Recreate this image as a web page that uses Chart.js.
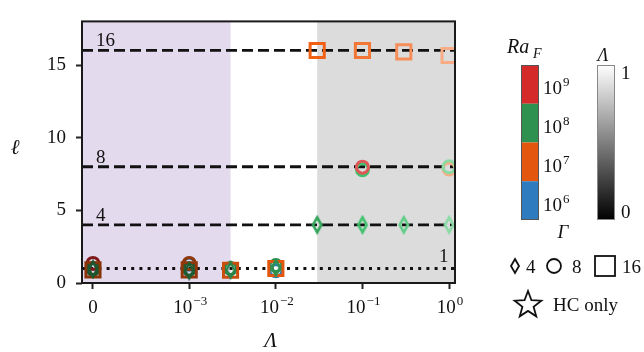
<!DOCTYPE html>
<html>
<head>
<meta charset="utf-8">
<script src="https://cdn.jsdelivr.net/npm/chart.js@4/dist/chart.umd.min.js"></script>
<style>
  html, body { margin: 0; padding: 0; background: #ffffff; }
  #plot { display: block; }
</style>
</head>
<body>
<canvas id="plot" width="644" height="352"></canvas>
<script>
// ---------- data ----------
const lambdaTicks = [0, 1e-3, 1e-2, 1e-1, 1];
const lambdaTickExponents = [null, -3, -2, -1, 0];
const ellTicks = [0, 5, 10, 15];
const lambdaRange = [-1.14e-4, 1.17];
const ellRange = [0, 18];
const regimeEdges = [3e-3, 3e-2];      // mixed regime below the first, grey regime above the second
const guideLevels = [16, 8, 4];        // dashed reference wavenumbers
const baseLevel = 1;                   // dotted reference wavenumber

// Γ = 4 runs
const g4Lambda = [0, 1e-3, 3e-3, 1e-2, 3e-2, 1e-1, 0.3, 1];
const g4Ell    = [0.95, 0.85, 0.9, 1.05, 4, 4, 4, 4];
const g4RaExp  = [8, 8, 8, 8, 8, 8, 8, 8];

// Γ = 8 runs
const g8Lambda = [0, 0, 0, 1e-3, 1e-3, 1e-3, 3e-3, 1e-2, 1e-2, 1e-1, 1e-1, 1, 1];
const g8Ell    = [1.35, 1.0, 0.95, 1.3, 1.35, 0.95, 1.0, 0.85, 1.2, 7.8, 7.97, 7.85, 8.0];
const g8RaExp  = [9, 7, 8, 6, 7, 8, 8, 6, 8, 8, 9, 7, 8];

// Γ = 16 runs
const g16Lambda = [0, 1e-3, 3e-3, 1e-2, 3e-2, 1e-1, 0.3, 1];
const g16Ell    = [0.9, 0.9, 0.88, 1.0, 16, 16, 15.9, 15.65];
const g16RaExp  = [7, 7, 7, 7, 7, 7, 7, 7];

// colour bar ticks
const raBarExponents = [9, 8, 7, 6];
const lambdaBarTicks = [1, 0];

// ---------- colours ----------
const RA_COLORS = { 6: '#2e7cbf', 7: '#e2560e', 8: '#2e9150', 9: '#d42a2a' };
const PURPLE_BAND = '#e4daee';
const GREY_BAND = '#dcdcdc';
const INK = '#111111';
const SERIF = '"Liberation Serif", "Times New Roman", serif';

// ---------- symmetric log transform (linthresh 1e-3, linscale 1) ----------
const LINTHRESH = 1e-3;
const LINSCALE_ADJ = 1 / (1 - 1 / 10);
function symlog(v) {
  const a = Math.abs(v);
  if (a <= LINTHRESH) return v * LINSCALE_ADJ / LINTHRESH;
  return Math.sign(v) * (LINSCALE_ADJ + Math.log10(a / LINTHRESH));
}
function symexp(t) {
  const a = Math.abs(t);
  if (a <= LINSCALE_ADJ) return t * LINTHRESH / LINSCALE_ADJ;
  return Math.sign(t) * LINTHRESH * Math.pow(10, a - LINSCALE_ADJ);
}

class SymlogScale extends Chart.LinearScale {
  determineDataLimits() {
    this.min = this.options.min;
    this.max = this.options.max;
  }
  buildTicks() {
    return lambdaTicks.map(v => ({ value: v }));
  }
  getPixelForValue(v) {
    const a = symlog(this.min), b = symlog(this.max);
    return this.getPixelForDecimal((symlog(v) - a) / (b - a));
  }
  getValueForPixel(p) {
    const a = symlog(this.min), b = symlog(this.max);
    return symexp(a + this.getDecimalForPixel(p) * (b - a));
  }
}
SymlogScale.id = 'symlog';
SymlogScale.defaults = Chart.LinearScale.defaults;
Chart.register(SymlogScale);

// ---------- colour shading by Λ ----------
function hexToHsl(hex) {
  const n = parseInt(hex.slice(1), 16);
  const r = ((n >> 16) & 255) / 255, g = ((n >> 8) & 255) / 255, b = (n & 255) / 255;
  const mx = Math.max(r, g, b), mn = Math.min(r, g, b);
  let h = 0, s = 0;
  const l = (mx + mn) / 2;
  if (mx !== mn) {
    const d = mx - mn;
    s = l > 0.5 ? d / (2 - mx - mn) : d / (mx + mn);
    if (mx === r) h = (g - b) / d + (g < b ? 6 : 0);
    else if (mx === g) h = (b - r) / d + 2;
    else h = (r - g) / d + 4;
    h /= 6;
  }
  return [h, s, l];
}
function tone(raExp, lam) {
  let [h, s, l] = hexToHsl(RA_COLORS[raExp]);
  const t = symlog(lam), ref = symlog(1e-2);
  if (t >= ref) {
    const f = 0.52 * Math.pow(Math.min(1, (t - ref) / 2), 1.3);
    l = l + f * (1 - l);
  } else {
    const k = (ref - t) / ref;
    const f = 0.4 * Math.pow(Math.min(1, 2 * k), 2);
    l = l * (1 - f);
  }
  return `hsl(${(h * 360).toFixed(1)}, ${(s * 100).toFixed(1)}%, ${(l * 100).toFixed(1)}%)`;
}

// thin diamond marker sprite (Γ = 4)
const spriteCache = {};
function diamondSprite(color) {
  if (spriteCache[color]) return spriteCache[color];
  const c = document.createElement('canvas');
  c.width = 14; c.height = 20;
  const g = c.getContext('2d');
  g.strokeStyle = color;
  g.lineWidth = 2.6;
  g.lineJoin = 'miter';
  g.beginPath();
  g.moveTo(7, 2.5); g.lineTo(11.2, 10); g.lineTo(7, 17.5); g.lineTo(2.8, 10); g.closePath();
  g.stroke();
  spriteCache[color] = c;
  return c;
}

function points(lams, ells) {
  return lams.map((x, i) => ({ x: x, y: ells[i] }));
}
function guide(level) {
  return [{ x: lambdaRange[0], y: level }, { x: lambdaRange[1], y: level }];
}

const datasets = [];
guideLevels.forEach(level => datasets.push({
  data: guide(level), showLine: true, pointRadius: 0, borderColor: INK,
  borderWidth: 2.8, borderDash: [11, 5], borderCapStyle: 'butt', order: 10, clip: 0
}));
datasets.push({
  data: guide(baseLevel), showLine: true, pointRadius: 0, borderColor: INK,
  borderWidth: 3, borderDash: [3, 5.2], borderCapStyle: 'butt', order: 10, clip: 0
});
datasets.push({
  data: points(g8Lambda, g8Ell), pointStyle: 'circle', pointRadius: 6, pointBorderWidth: 3,
  pointBackgroundColor: 'rgba(0,0,0,0)',
  pointBorderColor: ctx => tone(g8RaExp[ctx.dataIndex], g8Lambda[ctx.dataIndex]),
  order: 3, clip: 0
});
datasets.push({
  data: points(g16Lambda, g16Ell), pointStyle: 'rect', pointRadius: 10, pointBorderWidth: 3,
  pointBackgroundColor: 'rgba(0,0,0,0)',
  pointBorderColor: ctx => tone(g16RaExp[ctx.dataIndex], g16Lambda[ctx.dataIndex]),
  order: 2, clip: 0
});
datasets.push({
  data: points(g4Lambda, g4Ell), pointRadius: 7,
  pointStyle: ctx => diamondSprite(tone(g4RaExp[ctx.dataIndex], g4Lambda[ctx.dataIndex])),
  order: 1, clip: 0
});

// ---------- text helpers ----------
function powerText(ctx, base, exp, cx, baseline, size, align) {
  const supSize = Math.round(size * 0.7);
  ctx.font = `${size}px ${SERIF}`;
  const wb = ctx.measureText(base).width;
  ctx.font = `${supSize}px ${SERIF}`;
  const we = ctx.measureText(exp).width;
  const total = wb + we + 1;
  let x0 = align === 'left' ? cx : cx - total / 2;
  ctx.textAlign = 'left';
  ctx.textBaseline = 'alphabetic';
  ctx.font = `${size}px ${SERIF}`;
  ctx.fillText(base, x0, baseline);
  ctx.font = `${supSize}px ${SERIF}`;
  ctx.fillText(exp, x0 + wb + 1, baseline - size * 0.42);
}
function fmtExp(e) { return e < 0 ? '\u2212' + Math.abs(e) : String(e); }

// ---------- decorations ----------
const decorations = {
  id: 'decorations',
  beforeDatasetsDraw(chart) {
    const { ctx, chartArea: a, scales: { x } } = chart;
    const p1 = x.getPixelForValue(regimeEdges[0]);
    const p2 = x.getPixelForValue(regimeEdges[1]);
    ctx.save();
    ctx.fillStyle = PURPLE_BAND;
    ctx.fillRect(a.left, a.top, p1 - a.left, a.bottom - a.top);
    ctx.fillStyle = GREY_BAND;
    ctx.fillRect(p2, a.top, a.right - p2, a.bottom - a.top);
    ctx.restore();
  },
  afterDatasetsDraw(chart) {
    const { ctx, chartArea: a } = chart;
    ctx.save();
    ctx.strokeStyle = '#1a1a1a';
    ctx.lineWidth = 2;
    ctx.strokeRect(a.left, a.top, a.right - a.left, a.bottom - a.top);
    ctx.restore();
  },
  afterDraw(chart) {
    const { ctx, chartArea: a, scales: { x, y } } = chart;
    ctx.save();
    ctx.fillStyle = INK;

    // x tick labels
    lambdaTicks.forEach((v, i) => {
      const px = x.getPixelForValue(v);
      if (lambdaTickExponents[i] === null) {
        ctx.font = `19px ${SERIF}`;
        ctx.textAlign = 'center';
        ctx.textBaseline = 'alphabetic';
        ctx.fillText('0', px, 313);
      } else {
        powerText(ctx, '10', fmtExp(lambdaTickExponents[i]), px + 1, 313, 19, 'center');
      }
    });

    // axis titles
    ctx.font = `italic 21px ${SERIF}`;
    ctx.textAlign = 'center';
    ctx.textBaseline = 'alphabetic';
    ctx.fillText('\u039B', (a.left + a.right) / 2 + 2, 347);
    ctx.font = `italic 21px ${SERIF}`;
    ctx.fillText('\u2113', 15, 154);

    // guide labels
    ctx.font = `19px ${SERIF}`;
    ctx.textAlign = 'left';
    const x0 = x.getPixelForValue(0) + 3;
    guideLevels.forEach(level => {
      ctx.fillText(String(level), x0, y.getPixelForValue(level) - 4);
    });
    ctx.fillText(String(baseLevel), 439, y.getPixelForValue(baseLevel) - 6);

    // Ra_F colour bar
    const barTop = 65, barBot = 220, bx = 521, bw = 18;
    const seg = (barBot - barTop) / raBarExponents.length;
    raBarExponents.forEach((e, i) => {
      ctx.fillStyle = RA_COLORS[e];
      ctx.fillRect(bx, barTop + i * seg, bw, seg);
    });
    ctx.strokeStyle = '#555';
    ctx.lineWidth = 1;
    ctx.strokeRect(bx + 0.5, barTop + 0.5, bw - 1, barBot - barTop - 1);
    ctx.fillStyle = INK;
    raBarExponents.forEach((e, i) => {
      powerText(ctx, '10', String(e), 543, barTop + (i + 0.5) * seg + 10, 19, 'left');
    });
    ctx.font = `italic 20px ${SERIF}`;
    ctx.textAlign = 'left';
    ctx.fillText('Ra', 507, 53);
    ctx.font = `italic 14px ${SERIF}`;
    ctx.fillText('F', 533, 58);

    // Λ lightness bar
    const gx = 597;
    const grad = ctx.createLinearGradient(0, barTop, 0, barBot);
    grad.addColorStop(0, '#ffffff');
    grad.addColorStop(1, '#000000');
    ctx.fillStyle = grad;
    ctx.fillRect(gx, barTop, bw, barBot - barTop);
    ctx.strokeStyle = '#888';
    ctx.strokeRect(gx + 0.5, barTop + 0.5, bw - 1, barBot - barTop - 1);
    ctx.fillStyle = INK;
    ctx.font = `19px ${SERIF}`;
    lambdaBarTicks.forEach(v => {
      const py = barTop + (1 - (v + 0.06) / 1.12) * (barBot - barTop);
      ctx.fillText(String(v), 621, py + 6);
    });
    ctx.font = `italic 18px ${SERIF}`;
    ctx.textAlign = 'center';
    ctx.fillText('\u039B', 603, 61);

    // Γ legend
    ctx.font = `italic 19px ${SERIF}`;
    ctx.fillText('\u0393', 563, 238);
    ctx.strokeStyle = INK;
    ctx.lineWidth = 1.8;
    // thin diamond
    ctx.beginPath();
    ctx.moveTo(515, 259); ctx.lineTo(519, 266); ctx.lineTo(515, 273); ctx.lineTo(511, 266); ctx.closePath();
    ctx.stroke();
    // circle
    ctx.beginPath();
    ctx.arc(554, 266, 7, 0, Math.PI * 2);
    ctx.stroke();
    // square
    ctx.strokeRect(595, 256, 20, 20);
    ctx.font = `19px ${SERIF}`;
    ctx.textAlign = 'left';
    ctx.fillText('4', 526, 273);
    ctx.fillText('8', 572, 273);
    ctx.fillText('16', 622, 273);

    // HC-only star
    ctx.beginPath();
    const sx = 528, sy = 305, R = 14, r = R * 0.42;
    for (let k = 0; k < 10; k++) {
      const ang = -Math.PI / 2 + k * Math.PI / 5;
      const rr = k % 2 === 0 ? R : r;
      const px = sx + rr * Math.cos(ang), py = sy + rr * Math.sin(ang);
      if (k === 0) ctx.moveTo(px, py); else ctx.lineTo(px, py);
    }
    ctx.closePath();
    ctx.stroke();
    ctx.fillText('HC only', 553, 311);
    ctx.restore();
  }
};

Chart.defaults.font.family = SERIF;
Chart.defaults.font.size = 19;
Chart.defaults.color = INK;

new Chart(document.getElementById('plot'), {
  type: 'scatter',
  data: { datasets: datasets },
  plugins: [decorations],
  options: {
    responsive: false,
    devicePixelRatio: 1,
    animation: false,
    events: [],
    layout: { padding: { left: 0, right: 189, top: 5, bottom: 0 } },
    plugins: { legend: { display: false }, tooltip: { enabled: false } },
    scales: {
      x: {
        type: 'symlog',
        min: lambdaRange[0],
        max: lambdaRange[1],
        border: { display: false },
        grid: { drawOnChartArea: false, drawTicks: true, tickLength: 6, tickWidth: 2, tickColor: '#222' },
        ticks: { autoSkip: false, maxRotation: 0, callback: () => '' },
        afterFit: s => { s.height = 69; }
      },
      y: {
        type: 'linear',
        min: ellRange[0],
        max: ellRange[1],
        border: { display: false },
        grid: { drawOnChartArea: false, drawTicks: true, tickLength: 6, tickWidth: 2, tickColor: '#222' },
        ticks: { padding: 10, font: { size: 19 }, color: INK },
        afterBuildTicks: s => { s.ticks = ellTicks.map(v => ({ value: v })); },
        afterFit: s => { s.width = 82; }
      }
    }
  }
});
</script>
</body>
</html>
